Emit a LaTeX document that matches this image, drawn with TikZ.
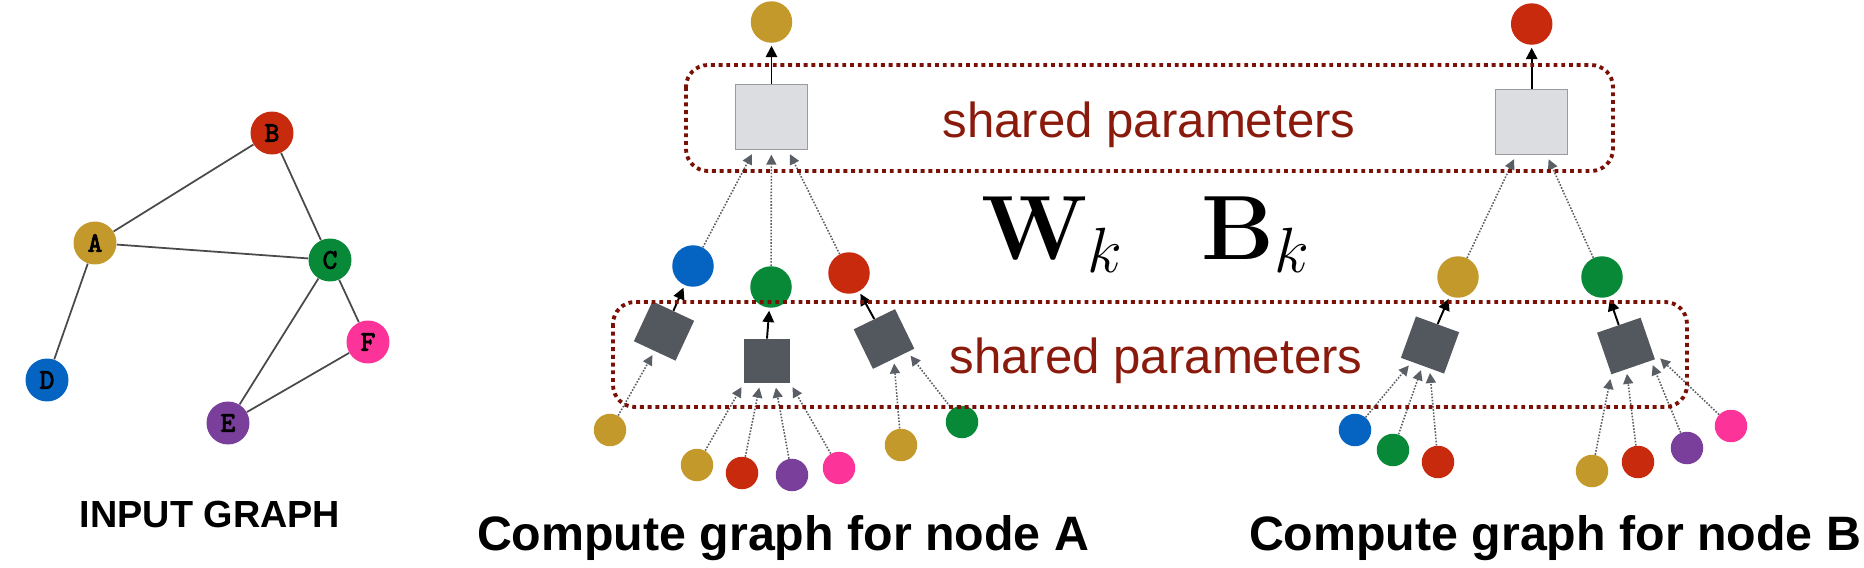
\RequirePackage{fix-cm}
\documentclass[tikz,border=0pt]{standalone}
\usepackage[no-math]{fontspec}
\newfontfamily\labelfont{Liberation Sans}
\newfontfamily\letterfont{lmmono10-regular}[Extension=.otf, FakeBold=3]
\usetikzlibrary{shapes,arrows.meta,positioning}

\definecolor{nodegold}{HTML}{C4992C}
\definecolor{nodered}{HTML}{C82A0E}
\definecolor{nodegreen}{HTML}{078937}
\definecolor{nodeblue}{HTML}{0563C1}
\definecolor{nodepink}{HTML}{FC3398}
\definecolor{nodepurple}{HTML}{7A3F9B}
\definecolor{sqdark}{HTML}{53575E}
\definecolor{sqlight}{HTML}{DCDDE0}
\definecolor{sqborder}{HTML}{9A9B9E}
\definecolor{framered}{HTML}{7B1106}
\definecolor{textred}{HTML}{8A1A0C}
\definecolor{graphedge}{HTML}{4A4A4A}
\definecolor{msggray}{HTML}{5A5E65}

\tikzstyle{gnode} = [circle, inner sep=0pt, minimum size=0.86cm,
    font=\letterfont\fontsize{16}{16}\selectfont]
\tikzstyle{emb} = [circle, inner sep=0pt, minimum size=0.83cm]
\tikzstyle{leaf} = [circle, inner sep=0pt, minimum size=0.65cm]
\tikzstyle{agg} = [rectangle, draw=sqborder, fill=sqlight, line width=0.6pt,
    minimum width=1.44cm, minimum height=1.31cm, inner sep=0pt]
\tikzstyle{layer} = [rectangle, fill=sqdark, minimum width=0.92cm,
    minimum height=0.88cm, inner sep=0pt]
\tikzstyle{edge} = [draw=graphedge, line width=1pt]
\tikzstyle{line} = [draw, line width=1.1pt, -{Triangle[length=6.5pt,width=6.5pt]},
    shorten >=1.5pt]
\tikzstyle{msg} = [draw=msggray, line width=0.9pt, dash pattern=on 0.9pt off 0.9pt,
    -{Triangle[length=5.7pt,width=5.7pt]}, shorten >=2.5pt]
\tikzstyle{frame} = [draw=framered, line width=2.2pt, dash pattern=on 2.2pt off 2.2pt,
    rounded corners=0.44cm]
\tikzstyle{shared} = [text=textred, font=\labelfont\fontsize{28}{30}\selectfont,
    anchor=base, inner sep=0pt]
\tikzstyle{caption} = [font=\labelfont\bfseries\fontsize{27.5}{30}\selectfont,
    anchor=base, inner sep=0pt]
\tikzstyle{smallcaption} = [font=\labelfont\bfseries\fontsize{21.5}{24}\selectfont,
    anchor=base, inner sep=0pt]
\tikzstyle{weight} = [font=\fontsize{52}{60}\selectfont, anchor=base west, inner sep=0pt]

\begin{document}
\begin{tikzpicture}[x=0.02cm, y=-0.02cm, node distance=1.9cm]
    \useasboundingbox (0,0) rectangle (1864,568);
    % Input graph
    \node [gnode, fill=nodegold] (A) at (95,243) {A};
    \node [gnode, fill=nodered] (B) at (272,133) {B};
    \node [gnode, fill=nodegreen] (C) at (330,260) {C};
    \node [gnode, fill=nodeblue] (D) at (47,380) {D};
    \node [gnode, fill=nodepurple] (E) at (228,423) {E};
    \node [gnode, fill=nodepink] (F) at (368,342) {F};
    \path [edge] (A) -- (B);
    \path [edge] (B) -- (C);
    \path [edge] (A) -- (C);
    \path [edge] (A) -- (D);
    \path [edge] (C) -- (E);
    \path [edge] (C) -- (F);
    \path [edge] (E) -- (F);
    \node [smallcaption] (capIn) at (210,527) {INPUT GRAPH};

    % Compute graph for node A
    \node [agg] (aggA) at (771.5,117) {};
    \node [emb, fill=nodegold, above of=aggA] (outA) {};
    \node [emb, fill=nodeblue] (lD) at (693,266) {};
    \node [emb, fill=nodegreen] (lC) at (771,287) {};
    \node [emb, fill=nodered] (lB) at (849,273) {};
    \node [layer, rotate=-25] (layD) at (664,331) {};
    \node [layer] (layC) at (767,361) {};
    \node [layer, rotate=26] (layB) at (884,339) {};
    \node [leaf, fill=nodegold] (lD1) at (610,430) {};
    \node [leaf, fill=nodegold] (lC1) at (697,465) {};
    \node [leaf, fill=nodered] (lC2) at (742,473) {};
    \node [leaf, fill=nodepurple] (lC3) at (792,475) {};
    \node [leaf, fill=nodepink] (lC4) at (839,468) {};
    \node [leaf, fill=nodegold] (lB1) at (901,445) {};
    \node [leaf, fill=nodegreen] (lB2) at (962,422) {};
    \node [caption] (capA) at (783,550) {Compute graph for node A};

    % Compute graph for node B
    \node [agg] (aggB) at (1531.7,122) {};
    \node [emb, fill=nodered, above of=aggB, node distance=1.96cm] (outB) {};
    \node [emb, fill=nodegold] (rA) at (1458,277) {};
    \node [emb, fill=nodegreen] (rC) at (1602,277) {};
    \node [layer, rotate=-20] (layA) at (1430,345) {};
    \node [layer, rotate=19] (layC2) at (1626,346) {};
    \node [leaf, fill=nodeblue] (rA1) at (1355,430) {};
    \node [leaf, fill=nodegreen] (rA2) at (1393,450) {};
    \node [leaf, fill=nodered] (rA3) at (1438,462) {};
    \node [leaf, fill=nodegold] (rC1) at (1592,471) {};
    \node [leaf, fill=nodered] (rC2) at (1638,462) {};
    \node [leaf, fill=nodepurple] (rC3) at (1687,448) {};
    \node [leaf, fill=nodepink] (rC4) at (1731,426) {};
    \node [caption] (capB) at (1555,550) {Compute graph for node B};

    % Draw edges
    \path [line] (aggA.north) -- (outA);
    \path [line] (layD.north) -- (lD);
    \path [line] (layC.north) -- (lC);
    \path [line] (layB.north) -- (lB);
    \path [line] (aggB.north) -- (outB);
    \path [line] (layA.north) -- (rA);
    \path [line] (layC2.north) -- (rC);

    \path [msg] (lD) -- (aggA);
    \path [msg] (lC) -- (aggA);
    \path [msg] (lB) -- (aggA);
    \path [msg] (lD1) -- (layD.south);
    \path [msg] (lC1) -- (layC.south west);
    \path [msg] (lC2) -- (layC.-107);
    \path [msg] (lC3) -- (layC.-70);
    \path [msg] (lC4) -- (layC.south east);
    \path [msg] (lB1) -- (layB.south);
    \path [msg] (lB2) -- (layB.-55);

    \path [msg] (rA) -- (aggB);
    \path [msg] (rC) -- (aggB);
    \path [msg] (rA1) -- (layA.-117);
    \path [msg] (rA2) -- (layA.south);
    \path [msg] (rA3) -- (layA.-71);
    \path [msg] (rC1) -- (layC2.south west);
    \path [msg] (rC2) -- (layC2.-108);
    \path [msg] (rC3) -- (layC2.-50);
    \path [msg, shorten >=6pt] (rC4) -- (layC2.-30);

    % Shared parameter frames
    \draw [frame] (686,65) rectangle (1613,171);
    \draw [frame] (613,302) rectangle (1687,407);
    \node [shared] (sharedTop) at (1149,137) {shared parameters};
    \node [shared] (sharedBot) at (1156,373) {shared parameters};
    \node [weight] (Wk) at (981,259) {$\mathbf{W}_k$};
    \node [weight] (Bk) at (1201,259) {$\mathbf{B}_k$};
\end{tikzpicture}
\end{document}
